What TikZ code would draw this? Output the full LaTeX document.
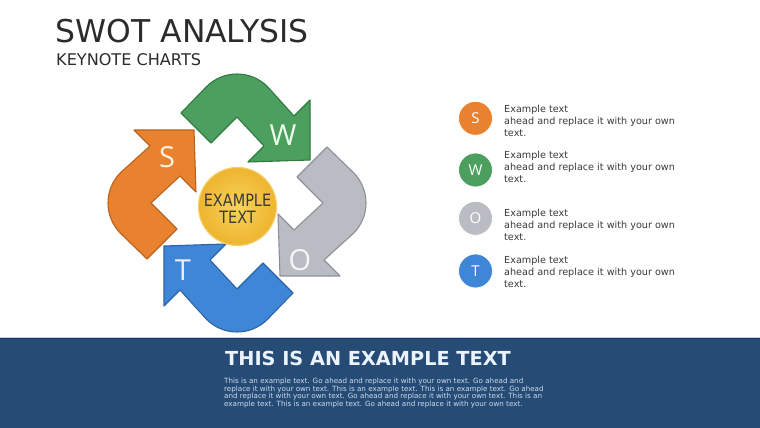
\documentclass[tikz,border=0pt]{standalone}
\usepackage{fontspec}
\setmainfont{DejaVu Sans}
\newfontfamily\osans{Open Sans}
\newfontfamily\condf[FakeStretch=0.85]{DejaVu Sans}
\definecolor{gFill}{HTML}{4C9F5F}\definecolor{gLine}{HTML}{2F7A40}
\definecolor{oFill}{HTML}{B9BCC3}\definecolor{oLine}{HTML}{8C9097}
\definecolor{bFill}{HTML}{3F86D6}\definecolor{bLine}{HTML}{2A63A6}
\definecolor{sFill}{HTML}{E9822F}\definecolor{sLine}{HTML}{B86220}
\definecolor{band}{HTML}{264B74}\definecolor{bandLine}{HTML}{1C3656}
\definecolor{bandText}{HTML}{CCDDF2}\definecolor{headText}{HTML}{EAF3FF}
\definecolor{titleC}{HTML}{2B2B2B}\definecolor{bodyC}{HTML}{3A3A3A}
\definecolor{ballIn}{HTML}{F7D35C}\definecolor{ballOut}{HTML}{EEB42E}\definecolor{ballLine}{HTML}{F3D06A}
\tikzset{
  swotarrow/.pic={\path[pic actions] (-56,90) -- (-26,60) -- (0,86) -- (27,57) -- (11,41) -- (73,43) -- (73,103) -- (57,87) -- (30.4,116.4) arc[start angle=45,end angle=135,radius=43] -- cycle;},
  arrowstyle/.style={line width=1.1pt, line join=round},
  bigletter/.style={font=\osans\fontsize{29}{29}\selectfont, inner sep=0pt},
  dotc/.style={circle, minimum size=34pt, inner sep=0pt, draw=white, line width=0.8pt, text=white, font=\osans\fontsize{15}{15}\selectfont},
  itemtext/.style={anchor=base west, inner sep=0pt, text=bodyC, font=\fontsize{9.65}{11}\selectfont},
  bandline/.style={anchor=base west, inner sep=0pt, text=bandText, font=\fontsize{7.15}{7.5}\selectfont}
}
\begin{document}
\begin{tikzpicture}[x=1pt,y=1pt]
\useasboundingbox (0,0) rectangle (760,428);
\fill[white] (0,0) rectangle (760,428);
% titles
\node[anchor=base west, inner sep=0pt, text=titleC, font=\fontsize{31.4}{31.4}\selectfont] (title) at (55.5,385) {SWOT ANALYSIS};
\node[anchor=base west, inner sep=0pt, text=titleC, font=\fontsize{16.1}{16.1}\selectfont] (subtitle) at (56,362) {KEYNOTE CHARTS};
% arrows
\coordinate (C) at (237,225);
\pic[arrowstyle, fill=gFill, draw=gLine] (arrW) at (C) {swotarrow};
\pic[arrowstyle, fill=oFill, draw=oLine, rotate=-90] (arrO) at (C) {swotarrow};
\pic[arrowstyle, fill=bFill, draw=bLine, rotate=180] (arrT) at (C) {swotarrow};
\pic[arrowstyle, fill=sFill, draw=sLine, rotate=90] (arrS) at (C) {swotarrow};
\node[bigletter, text=green!8!white] (lW) at (283,293) {W};
\node[bigletter, text=orange!12!white] (lS) at (167,271) {S};
\node[bigletter, text=gray!8!white] (lO) at (300,168) {O};
\node[bigletter, text=blue!8!white] (lT) at (183,158) {T};
% centre ball
\node[circle, minimum size=78pt, inner sep=0pt, inner color=ballIn, outer color=ballOut, draw=ballLine, line width=1.2pt] (ball) at (237.5,221.5) {};
\node[inner sep=0pt, text=bodyC, font=\condf\fontsize{17}{17}\selectfont] (ballA) at (237.5,228) {EXAMPLE};
\node[inner sep=0pt, text=bodyC, font=\condf\fontsize{17}{17}\selectfont] (ballB) at (237.5,211) {TEXT};
% right list
\node[dotc, fill=sFill] (dS) at (475.5,309.7) {S};
\node[dotc, fill=gFill] (dW) at (475.5,258) {W};
\node[dotc, fill=oFill] (dO) at (475.5,209.7) {O};
\node[dotc, fill=bFill] (dT) at (475.5,157) {T};
\node[itemtext] (s1) at (504,315) {Example text};
\node[itemtext] (s2) at (504,303) {ahead and replace it with your own};
\node[itemtext] (s3) at (504,291.5) {text.};
\node[itemtext] (w1) at (504,269) {Example text};
\node[itemtext] (w2) at (504,257) {ahead and replace it with your own};
\node[itemtext] (w3) at (504,245.5) {text.};
\node[itemtext] (o1) at (504,211) {Example text};
\node[itemtext] (o2) at (504,199) {ahead and replace it with your own};
\node[itemtext] (o3) at (504,187.5) {text.};
\node[itemtext] (t1) at (504,164) {Example text};
\node[itemtext] (t2) at (504,152) {ahead and replace it with your own};
\node[itemtext] (t3) at (504,140.5) {text.};
% bottom band
\fill[band] (0,0) rectangle (760,90);
\draw[bandLine, line width=1.2pt] (0,89.6) -- (760,89.6);
\draw[blue!20!white, line width=0.6pt] (0,90.8) -- (760,90.8);
\node[anchor=base west, inner sep=0pt, text=headText, font=\bfseries\fontsize{19.3}{19.3}\selectfont] (head) at (225,62) {THIS IS AN EXAMPLE TEXT};
\node[bandline] (b1) at (224,44) {This is an example text. Go ahead and replace it with your own text. Go ahead and};
\node[bandline] (b2) at (224,36.5) {replace it with your own text. This is an example text. This is an example text. Go ahead};
\node[bandline] (b3) at (224,29) {and replace it with your own text. Go ahead and replace it with your own text. This is an};
\node[bandline] (b4) at (224,21.5) {example text. This is an example text. Go ahead and replace it with your own text.};
\end{tikzpicture}
\end{document}
